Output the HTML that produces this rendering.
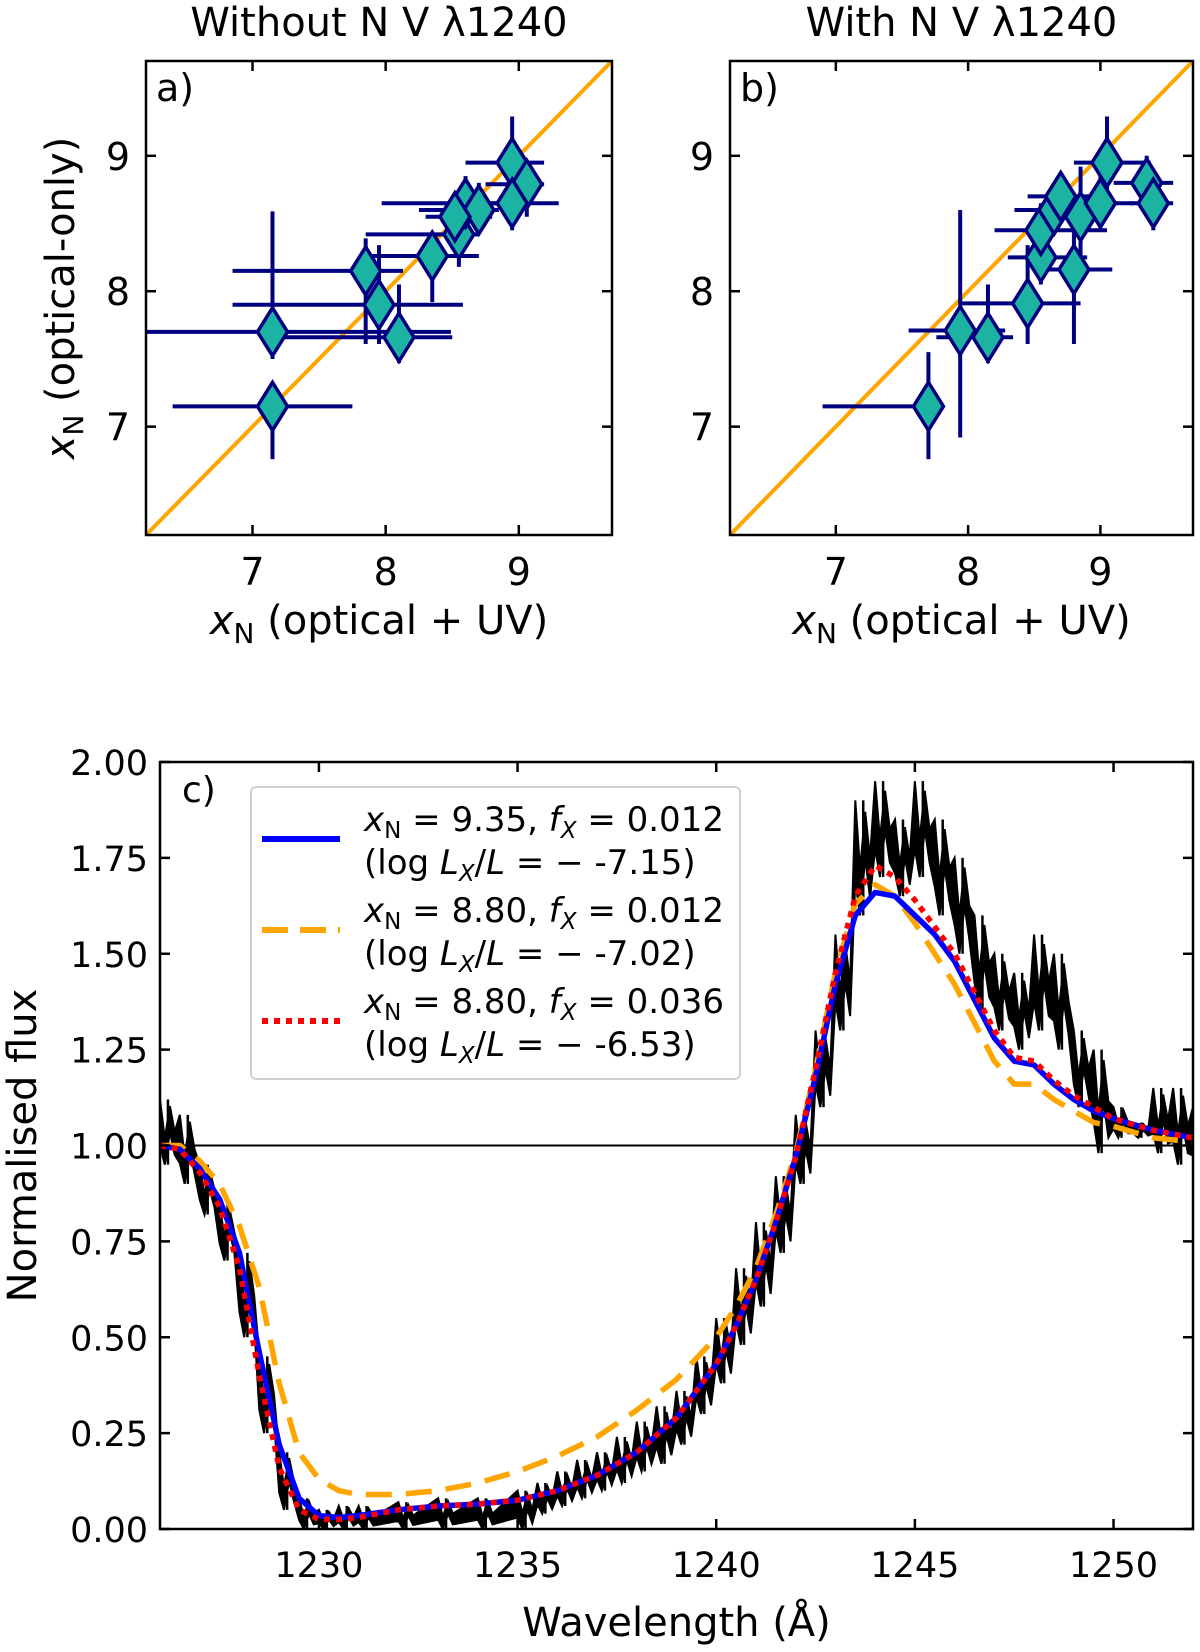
<!DOCTYPE html>
<html><head><meta charset="utf-8"><style>
html,body{margin:0;padding:0;background:#fff}
svg text{font-family:"DejaVu Sans","Liberation Sans",sans-serif;fill:#000}
</style></head><body>
<svg id="fig" xmlns="http://www.w3.org/2000/svg" width="1200" height="1647" viewBox="0 0 1200 1647">
<rect width="1200" height="1647" fill="#fff"/>
<g id="pa"></g>
<g id="pb"></g>
<g id="pc"></g>
</svg>
<script>
// Panel a data: x, y, x-low, x-high, y-low, y-high
const aX    = [7.15,7.15,7.85,7.95,8.10,8.35,8.55,8.60,8.70,8.52,8.95,9.06,8.95];
const aY    = [7.15,7.70,8.15,7.90,7.66,8.26,8.42,8.65,8.60,8.55,8.95,8.79,8.65];
const aXlo  = [6.40,6.00,6.85,6.85,7.20,7.85,7.85,7.97,8.25,8.30,8.60,8.75,8.60];
const aXhi  = [7.75,8.49,8.13,8.58,8.50,8.70,8.70,8.85,8.85,8.80,9.19,9.19,9.30];
const aYlo  = [6.76,7.50,7.61,7.61,7.47,7.92,8.18,8.45,8.42,8.40,8.75,8.55,8.45];
const aYhi  = [7.33,8.59,8.39,8.34,8.05,8.43,8.65,8.85,8.80,8.72,9.29,8.95,8.85];
// Panel b data
const bX    = [7.70,7.94,8.15,8.45,8.55,8.55,8.65,8.70,8.80,8.85,9.00,9.05,9.35,9.40];
const bY    = [7.15,7.71,7.66,7.91,8.25,8.45,8.60,8.70,8.16,8.55,8.65,8.95,8.80,8.65];
const bXlo  = [6.90,7.55,7.76,7.95,8.30,8.20,8.35,8.45,8.59,8.60,8.75,8.80,9.10,9.22];
const bXhi  = [7.75,8.28,8.34,8.85,8.90,9.05,8.90,8.95,9.09,9.05,9.25,9.38,9.55,9.55];
const bYlo  = [6.76,6.92,7.47,7.61,8.05,8.25,8.42,8.50,7.61,8.25,8.45,8.75,8.60,8.45];
const bYhi  = [7.55,8.60,8.05,8.34,8.45,8.65,8.80,8.85,8.45,8.92,8.85,9.29,9.00,8.85];
const scatTicks = [7,8,9];
// Panel c data
const wave  = [1226,1226.5,1227,1227.5,1228,1228.5,1229,1229.5,1230,1230.5,1231,1232,1233,1234,1235,1236,1237,1238,1239,1240,1240.5,1241,1241.5,1242,1242.5,1243,1243.5,1244,1244.5,1245,1245.5,1246,1246.5,1247,1247.5,1248,1248.5,1249,1249.5,1250,1251,1252];
const blueF = [1.0,0.99,0.94,0.86,0.72,0.46,0.22,0.08,0.035,0.03,0.035,0.05,0.06,0.065,0.075,0.10,0.14,0.20,0.29,0.43,0.53,0.65,0.80,0.97,1.18,1.42,1.60,1.66,1.65,1.60,1.55,1.48,1.38,1.28,1.22,1.21,1.16,1.12,1.09,1.07,1.04,1.02];
const orangeF=[1.0,1.0,0.96,0.90,0.79,0.63,0.38,0.20,0.13,0.10,0.09,0.09,0.10,0.12,0.15,0.19,0.24,0.31,0.39,0.50,0.58,0.68,0.82,0.98,1.20,1.45,1.63,1.68,1.65,1.58,1.50,1.42,1.32,1.22,1.16,1.16,1.12,1.09,1.06,1.05,1.02,1.01];
const redF  = [1.0,0.99,0.93,0.84,0.68,0.40,0.16,0.05,0.025,0.025,0.03,0.05,0.06,0.065,0.075,0.10,0.14,0.20,0.29,0.43,0.53,0.65,0.80,0.97,1.20,1.45,1.65,1.73,1.70,1.64,1.57,1.50,1.40,1.30,1.23,1.22,1.17,1.13,1.10,1.07,1.04,1.02];
const obsW  = [1226,1226.5,1227,1227.5,1228,1228.5,1229,1229.5,1230,1230.5,1231,1232,1233,1234,1235,1235.5,1236,1236.5,1237,1237.5,1238,1238.5,1239,1239.5,1240,1240.5,1241,1241.5,1242,1242.5,1243,1243.5,1244,1244.5,1245,1245.5,1246,1246.5,1247,1247.5,1248,1248.5,1249,1249.5,1250,1250.5,1251,1251.5,1252];
const obsLo = [0.95,0.90,0.82,0.70,0.50,0.25,0.05,0.0,0.0,0.0,0.0,0.0,0.0,0.0,0.0,0.04,0.06,0.08,0.10,0.12,0.15,0.17,0.22,0.30,0.38,0.48,0.58,0.72,0.90,1.10,1.30,1.60,1.70,1.65,1.70,1.60,1.50,1.35,1.30,1.25,1.30,1.25,1.10,0.98,1.02,1.02,0.98,0.95,0.92];
const obsHi = [1.12,1.08,0.95,0.85,0.72,0.45,0.20,0.08,0.05,0.06,0.06,0.07,0.08,0.08,0.10,0.12,0.15,0.18,0.20,0.24,0.28,0.32,0.36,0.45,0.55,0.68,0.80,0.92,1.08,1.30,1.55,1.90,1.95,1.85,1.95,1.85,1.75,1.60,1.50,1.45,1.55,1.50,1.30,1.25,1.10,1.06,1.15,1.15,1.10];
const cXTicks = [1230,1235,1240,1245,1250];
const cYTicks = [0,0.25,0.5,0.75,1.0,1.25,1.5,1.75,2.0];

const NS='http://www.w3.org/2000/svg';
function mk(parent,tag,attrs,text){const e=document.createElementNS(NS,tag);for(const k in attrs)e.setAttribute(k,attrs[k]);if(text!==undefined)e.textContent=text;parent.appendChild(e);return e;}

function scatter(g,L,R,T,B,X,Y,Xlo,Xhi,Ylo,Yhi,title,tag,showY){
  const x=v=>L+(v-6.2)/(3.5)*(R-L), y=v=>B-(v-6.2)/(3.5)*(B-T);
  const t=mk(g,'text',{x:(L+R)/2,y:36,'text-anchor':'middle','font-size':40},title);
  
  
  const cp='clip'+tag;
  const d=mk(g,'defs',{});const c=mk(d,'clipPath',{id:cp});mk(c,'rect',{x:L,y:T,width:R-L,height:B-T});
  const inner=mk(g,'g',{'clip-path':'url(#'+cp+')'});
  const ol=mk(inner,'line',{x1:x(6.2),y1:y(6.2),x2:x(9.7),y2:y(9.7),stroke:'#ffa500','stroke-width':4});
  
  
  for(let i=0;i<X.length;i++){
    const pg=mk(inner,'g',{});
    
    
    mk(pg,'line',{x1:x(Xlo[i]),x2:x(Xhi[i]),y1:y(Y[i]),y2:y(Y[i]),stroke:'#000080','stroke-width':4});
    mk(pg,'line',{x1:x(X[i]),x2:x(X[i]),y1:y(Ylo[i]),y2:y(Yhi[i]),stroke:'#000080','stroke-width':4});
  }
  for(let i=0;i<X.length;i++){
    const cx=x(X[i]),cy=y(Y[i]);
    const dm=mk(inner,'polygon',{points:`${cx},${cy-24} ${cx+15},${cy} ${cx},${cy+24} ${cx-15},${cy}`,fill:'#1db3a2',stroke:'#000080','stroke-width':3.5});
    
    
  }
  for(const v of scatTicks){
    mk(g,'line',{x1:x(v),x2:x(v),y1:B,y2:B-10,stroke:'#000','stroke-width':2.5});
    mk(g,'line',{x1:x(v),x2:x(v),y1:T,y2:T+10,stroke:'#000','stroke-width':2.5});
    mk(g,'line',{x1:L,x2:L+10,y1:y(v),y2:y(v),stroke:'#000','stroke-width':2.5});
    mk(g,'line',{x1:R,x2:R-10,y1:y(v),y2:y(v),stroke:'#000','stroke-width':2.5});
    const xt=mk(g,'text',{x:x(v),y:B+50,'text-anchor':'middle','font-size':38},v);
    
    
    const yt=mk(g,'text',{x:L-16,y:y(v)+14,'text-anchor':'end','font-size':38},v);
    
    
  }
  mk(g,'rect',{x:L,y:T,width:R-L,height:B-T,fill:'none',stroke:'#000','stroke-width':2.5});
  const pl=mk(g,'text',{x:L+10,y:T+40,'font-size':38},tag+')');
  
  
  const xl=mk(g,'text',{x:(L+R)/2,y:634,'text-anchor':'middle','font-size':40});
  
  
  xl.innerHTML='<tspan font-style="italic">x</tspan><tspan font-size="28" dy="9">N</tspan><tspan dy="-9"> (optical + UV)</tspan>';
  if(showY){
    const yl=mk(g,'text',{transform:`translate(74,${(T+B)/2}) rotate(-90)`,'text-anchor':'middle','font-size':40});
    
    
    yl.innerHTML='<tspan font-style="italic">x</tspan><tspan font-size="28" dy="9">N</tspan><tspan dy="-9"> (optical-only)</tspan>';
  }
}
scatter(document.getElementById('pa'),146,612,61,535,aX,aY,aXlo,aXhi,aYlo,aYhi,'Without N V \u03bb1240','a',true);
scatter(document.getElementById('pb'),730,1193,61,535,bX,bY,bXlo,bXhi,bYlo,bYhi,'With N V \u03bb1240','b',false);

// Panel c
(function(){
  const g=document.getElementById('pc');
  const L=160,R=1193,T=762,B=1529;
  const x=v=>L+(v-1226)/26*(R-L), y=v=>B-v/2*(B-T);
  const d=mk(g,'defs',{});const c=mk(d,'clipPath',{id:'clipc'});mk(c,'rect',{x:L,y:T,width:R-L,height:B-T});
  const inner=mk(g,'g',{'clip-path':'url(#clipc)'});
  let pts=[];
  for(let i=0;i<obsW.length;i++){
    pts.push(x(obsW[i])+','+y(obsHi[i]));
    pts.push(x(obsW[i]+0.12)+','+y(obsLo[i]*0.6+obsHi[i]*0.4));
    pts.push(x(obsW[i]+0.25)+','+y(obsHi[i]*0.9+obsLo[i]*0.1));
    pts.push(x(obsW[i]+0.37)+','+y((obsHi[i]+obsLo[i])/2));
  }
  for(let i=obsW.length-1;i>=0;i--){
    pts.push(x(obsW[i]+0.37)+','+y(obsLo[i]*0.85+obsHi[i]*0.15));
    pts.push(x(obsW[i]+0.25)+','+y(obsHi[i]*0.5+obsLo[i]*0.5));
    pts.push(x(obsW[i]+0.12)+','+y(obsLo[i]));
    pts.push(x(obsW[i])+','+y(obsLo[i]*0.7+obsHi[i]*0.3));
  }
  const ob=mk(inner,'polygon',{points:pts.join(' '),fill:'#000',stroke:'#000','stroke-width':2});
  
  
  for(let i=0;i<obsW.length;i++){
    const sp=mk(inner,'line',{x1:x(obsW[i]+0.2),x2:x(obsW[i]+0.2),y1:y(obsLo[i]),y2:y(obsHi[i]),stroke:'#000','stroke-width':2.5});
    
    
  }
  const hl=mk(inner,'line',{x1:L,x2:R,y1:y(1),y2:y(1),stroke:'#000','stroke-width':2});
  
  
  function curve(arr,color,dash,w,name){
    const p=wave.map((v,i)=>x(v)+','+y(arr[i])).join(' ');
    const e=mk(inner,'polyline',{points:p,fill:'none',stroke:color,'stroke-width':w,'stroke-dasharray':dash,'stroke-linejoin':'round'});
    
    
  }
  curve(orangeF,'#ffa500','26 14',5.5,'model-xn-8.80-fx-0.012');
  curve(blueF,'#0000ff','none',5.5,'model-xn-9.35-fx-0.012');
  curve(redF,'#ff0000','6 6',5.5,'model-xn-8.80-fx-0.036');
  for(const v of cXTicks){
    mk(g,'line',{x1:x(v),x2:x(v),y1:B,y2:B-10,stroke:'#000','stroke-width':2.5});
    mk(g,'line',{x1:x(v),x2:x(v),y1:T,y2:T+10,stroke:'#000','stroke-width':2.5});
    const t=mk(g,'text',{x:x(v),y:B+48,'text-anchor':'middle','font-size':35},v);
    
    
  }
  for(const v of cYTicks){
    mk(g,'line',{x1:L,x2:L+10,y1:y(v),y2:y(v),stroke:'#000','stroke-width':2.5});
    mk(g,'line',{x1:R,x2:R-10,y1:y(v),y2:y(v),stroke:'#000','stroke-width':2.5});
    const t=mk(g,'text',{x:L-12,y:y(v)+13,'text-anchor':'end','font-size':35},v.toFixed(2));
    
    
  }
  mk(g,'rect',{x:L,y:T,width:R-L,height:B-T,fill:'none',stroke:'#000','stroke-width':2.5});
  const pl=mk(g,'text',{x:L+22,y:T+40,'font-size':36},'c)');
  
  
  const xl=mk(g,'text',{x:(L+R)/2,y:1636,'text-anchor':'middle','font-size':40},'Wavelength (Å)');
  
  
  const yl=mk(g,'text',{transform:`translate(36,${(T+B)/2}) rotate(-90)`,'text-anchor':'middle','font-size':40},'Normalised flux');
  
  
  const lg=mk(g,'g',{});
  
  
  mk(lg,'rect',{x:251,y:787,width:489,height:292,rx:5,fill:'#fff','fill-opacity':0.85,stroke:'#d0d0d0','stroke-width':2});
  const entries=[['9.35','0.012','-7.15','#0000ff','none'],['8.80','0.012','-7.02','#ffa500','26 12'],['8.80','0.036','-6.53','#ff0000','6 6']];
  entries.forEach((en,i)=>{
    const yy=839+i*91;
    const eg=mk(lg,'g',{});
    
    
    mk(eg,'line',{x1:262,x2:340,y1:yy,y2:yy,stroke:en[3],'stroke-width':6,'stroke-dasharray':en[4]});
    const t1=mk(eg,'text',{x:364,y:yy-8,'font-size':34});
    t1.innerHTML=`<tspan font-style="italic">x</tspan><tspan font-size="23" dy="7">N</tspan><tspan dy="-7"> = ${en[0]}, </tspan><tspan font-style="italic">f</tspan><tspan font-style="italic" font-size="23" dy="7">X</tspan><tspan dy="-7"> = ${en[1]}</tspan>`;
    const t2=mk(eg,'text',{x:364,y:yy+35,'font-size':34});
    t2.innerHTML=`(log <tspan font-style="italic">L</tspan><tspan font-style="italic" font-size="23" dy="7">X</tspan><tspan dy="-7">/</tspan><tspan font-style="italic">L</tspan> = −  ${en[2]})`;
  });
})();
</script>
</body></html>
